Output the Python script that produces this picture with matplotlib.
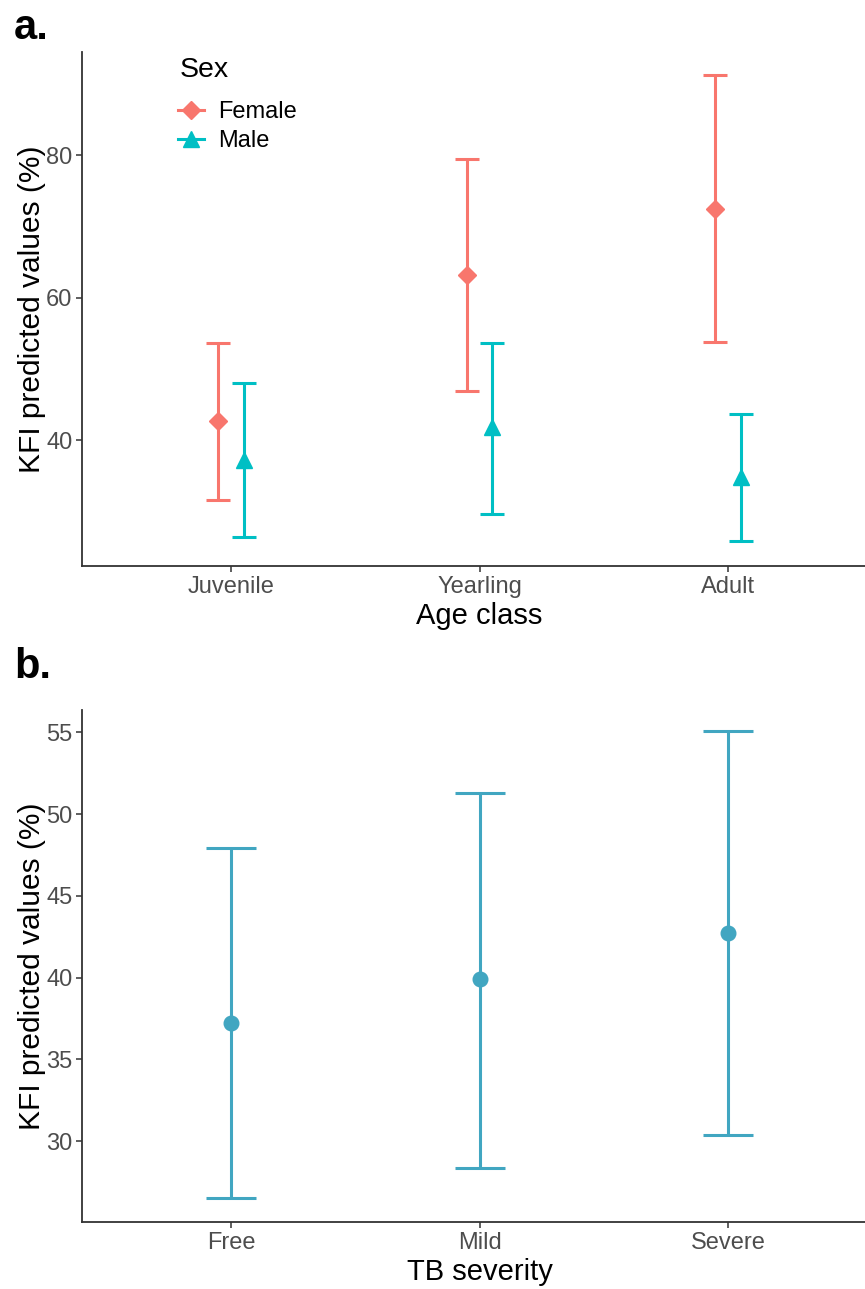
import matplotlib
matplotlib.use("Agg")
import matplotlib.pyplot as plt
from matplotlib.lines import Line2D
import numpy as np

# panel a: KFI by age class and sex
age_classes = ["Juvenile", "Yearling", "Adult"]
female_fit = [42.7, 63.2, 72.5]
female_lo = [31.6, 46.9, 53.8]
female_hi = [53.7, 79.5, 91.3]
male_fit = [37.2, 41.9, 34.9]
male_lo = [26.5, 29.7, 25.9]
male_hi = [48.0, 53.7, 43.7]

# panel b: KFI by TB severity
tb_levels = ["Free", "Mild", "Severe"]
tb_fit = [37.2, 39.9, 42.7]
tb_lo = [26.5, 28.35, 30.4]
tb_hi = [47.95, 51.3, 55.05]

FEMALE = "#F8766D"
MALE = "#00BFC4"
TB_COL = "#41A6C1"
GREY = "#4D4D4D"

plt.rcParams["font.family"] = ["Liberation Sans", "DejaVu Sans"]

W, H = 865, 1289
fig = plt.figure(figsize=(W / 100, H / 100), dpi=100)


def px_axes(left, top, right, bottom):
    return fig.add_axes([left / W, 1 - bottom / H, (right - left) / W, (bottom - top) / H])


def style(ax):
    for s in ["top", "right"]:
        ax.spines[s].set_visible(False)
    for s in ["left", "bottom"]:
        ax.spines[s].set_linewidth(1.3)
        ax.spines[s].set_color("#333333")
    ax.tick_params(axis="both", length=4, width=1.1, color="#333333",
                   labelsize=17, labelcolor=GREY, pad=3)


def pointrange(ax, x, fit, lo, hi, color, marker, ms, cap):
    fit = np.array(fit)
    err = [fit - np.array(lo), np.array(hi) - fit]
    ax.errorbar(x, fit, yerr=err, fmt=marker, color=color, ms=ms,
                elinewidth=2.2, capsize=cap, capthick=2.2, mec=color)


# ---- panel a ----
ax1 = px_axes(82, 52, 877, 566)
x = np.arange(1, len(age_classes) + 1)
dodge = 0.052
pointrange(ax1, x - dodge, female_fit, female_lo, female_hi, FEMALE, "D", 9.5, 8.5)
pointrange(ax1, x + dodge, male_fit, male_lo, male_hi, MALE, "^", 11, 8.5)
ax1.set_xlim(0.4, 3.6)
ax1.set_ylim(22.36, 94.5)
ax1.set_yticks([40, 60, 80])
ax1.set_xticks(x)
ax1.set_xticklabels(age_classes)
ax1.set_xlabel("Age class", fontsize=21, labelpad=3)
ax1.set_ylabel("KFI predicted values (%)", fontsize=21.5, labelpad=0)
style(ax1)

fig.text(180 / W, 1 - 70 / H, "Sex", fontsize=20.5, va="center", ha="left")
handles = [Line2D([], [], color=FEMALE, marker="D", ms=9.5, lw=2.2),
           Line2D([], [], color=MALE, marker="^", ms=11, lw=2.2)]
leg = fig.legend(handles, ["Female", "Male"],
                 loc="upper left", bbox_to_anchor=(178 / W, 1 - 101 / H),
                 frameon=False, fontsize=17, handlelength=1.1,
                 handletextpad=0.6, labelspacing=0.3,
                 borderpad=0, borderaxespad=0)

fig.text(14 / W, 1 - 28 / H, "a.", fontsize=30, fontweight="bold", va="center", ha="left")

# ---- panel b ----
ax2 = px_axes(82, 710, 877, 1222)
xb = np.arange(1, len(tb_levels) + 1)
pointrange(ax2, xb, tb_fit, tb_lo, tb_hi, TB_COL, "o", 10.5, 18)
ax2.set_xlim(0.4, 3.6)
ax2.set_ylim(25.05, 56.36)
ax2.set_yticks([30, 35, 40, 45, 50, 55])
ax2.set_xticks(xb)
ax2.set_xticklabels(tb_levels)
ax2.set_xlabel("TB severity", fontsize=21, labelpad=3)
ax2.set_ylabel("KFI predicted values (%)", fontsize=21.5, labelpad=0)
style(ax2)

fig.text(14 / W, 1 - 667 / H, "b.", fontsize=30, fontweight="bold", va="center", ha="left")

fig.savefig("out.png", dpi=100, facecolor="white")
